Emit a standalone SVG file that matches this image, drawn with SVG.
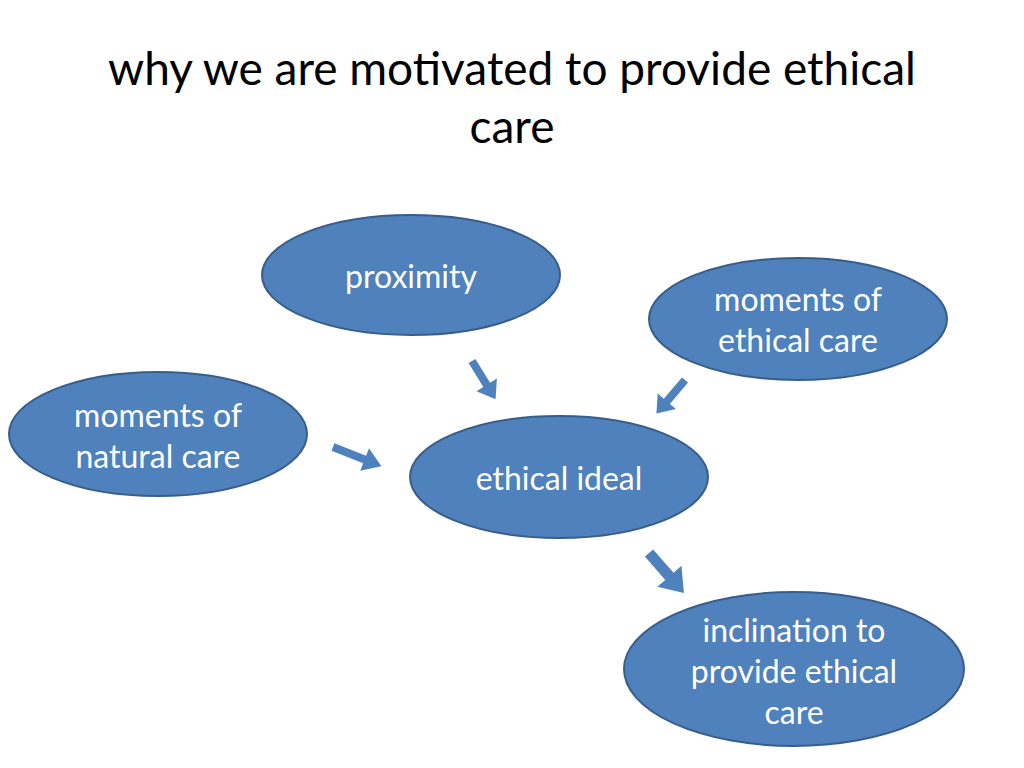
<svg xmlns="http://www.w3.org/2000/svg" width="1024" height="768" viewBox="0 0 1024 768">
<style>
.node{fill:#4F81BD;stroke:#385D8A;stroke-width:2}
.lbl{font-family:Lato,"Liberation Sans",sans-serif;font-size:32px;fill:#FFFFFF;text-anchor:middle}
.title{font-family:Lato,"Liberation Sans",sans-serif;font-size:46px;fill:#000000;text-anchor:middle}
.arr{fill:#4F81BD;stroke:none}
</style>
<rect width="1024" height="768" fill="#FFFFFF"/>
<text class="title" x="512" y="85">why we are motivated to provide ethical</text>
<text class="title" x="512" y="143">care</text>
<g id="proximity">
<ellipse class="node" cx="411" cy="275" rx="149" ry="60"/>
<text class="lbl" x="411" y="288">proximity</text>
</g>
<g id="ethical-care">
<ellipse class="node" cx="798" cy="319" rx="149" ry="61"/>
<text class="lbl" x="798" y="311">moments of</text>
<text class="lbl" x="798" y="352">ethical care</text>
</g>
<g id="natural-care">
<ellipse class="node" cx="158" cy="434" rx="149" ry="62"/>
<text class="lbl" x="158" y="427">moments of</text>
<text class="lbl" x="158" y="468">natural care</text>
</g>
<g id="ethical-ideal">
<ellipse class="node" cx="559" cy="477" rx="149" ry="61"/>
<text class="lbl" x="559" y="490">ethical ideal</text>
</g>
<g id="inclination">
<ellipse class="node" cx="794" cy="669" rx="170" ry="77"/>
<text class="lbl" x="794" y="642">inclination to</text>
<text class="lbl" x="794" y="683">provide ethical</text>
<text class="lbl" x="794" y="724">care</text>
</g>
<g id="connectors">
<path class="arr" transform="translate(472,361) rotate(58.4)" d="M0,-4 L28,-4 L28,-12 L45,0 L28,12 L28,4 L0,4 Z"/>
<path class="arr" transform="translate(333,447) rotate(21.6)" d="M0,-4 L34,-4 L34,-12 L52,0 L34,12 L34,4 L0,4 Z"/>
<path class="arr" transform="translate(685,380) rotate(130.5)" d="M0,-4 L28,-4 L28,-12 L44,0 L28,12 L28,4 L0,4 Z"/>
<path class="arr" transform="translate(649,553) rotate(48.8)" d="M0,-5.5 L31,-5.5 L31,-16 L53,0 L31,16 L31,5.5 L0,5.5 Z"/>
</g>
</svg>
